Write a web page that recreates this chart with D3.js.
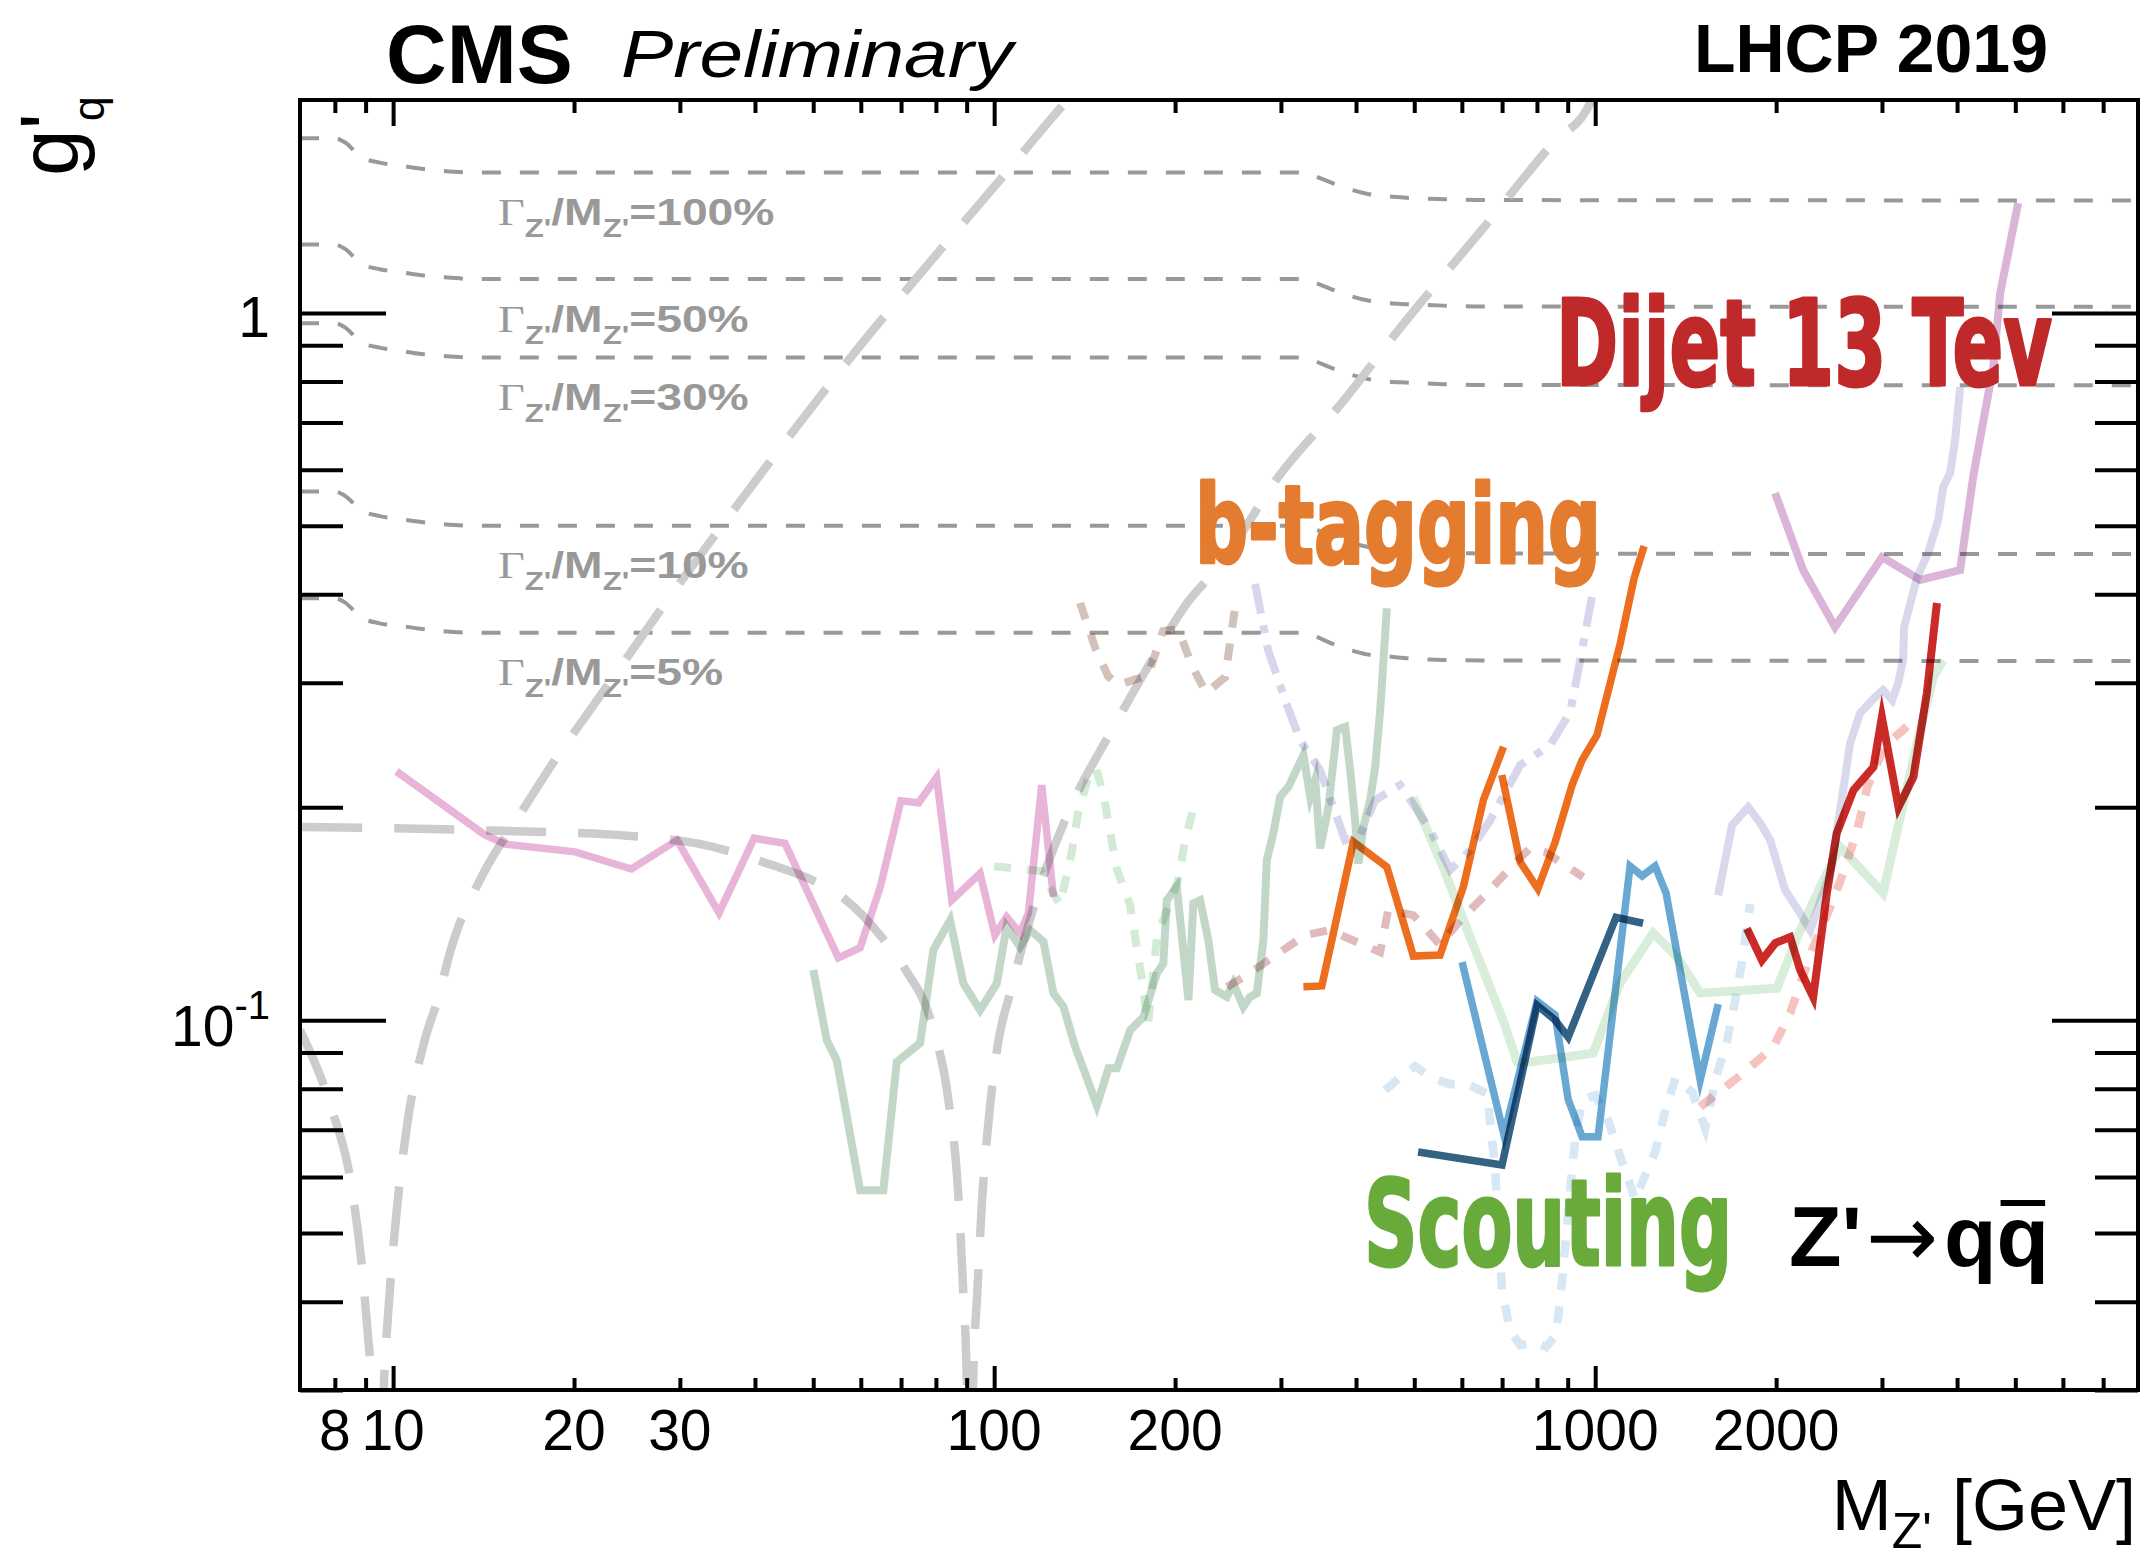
<!DOCTYPE html>
<html>
<head>
<meta charset="utf-8">
<script src="https://cdn.jsdelivr.net/npm/d3@7"></script>
<style>
  html, body { margin: 0; padding: 0; background: #fff; }
  svg { display: block; }
</style>
</head>
<body>
<div id="chart"></div>
<script>
const width = 2149;
const height = 1558;

const plotLeft = 300, plotRight = 2138, plotTop = 100, plotBottom = 1390;

// axis ticks and labels
const xMajorTicks = [10, 100, 1000];
const xMinorTicks = [8, 9, 20, 30, 40, 50, 60, 70, 80, 90, 200, 300, 400, 500, 600, 700, 800, 900, 2000, 3000, 4000, 5000, 6000, 7000];
const xTickLabels = [8, 10, 20, 30, 100, 200, 1000, 2000];
const yMajorTicks = [0.1, 1];
const yMinorTicks = [0.03, 0.04, 0.05, 0.06, 0.07, 0.08, 0.09, 0.2, 0.3, 0.4, 0.5, 0.6, 0.7, 0.8, 0.9];

// constant width lines Gamma/M
const widthMass = [7, 8.0, 8.3, 8.85, 9.5, 10.3, 11.0, 12.0, 13.6, 329, 345, 364, 390, 417, 450, 485, 560, 650, 8000];
const width100 = [1.766, 1.766, 1.744, 1.661, 1.631, 1.615, 1.601, 1.589, 1.580, 1.580, 1.556, 1.528, 1.496, 1.474, 1.462, 1.455, 1.448, 1.444, 1.442];
const width50 = [1.249, 1.249, 1.233, 1.174, 1.153, 1.142, 1.132, 1.124, 1.117, 1.117, 1.100, 1.080, 1.058, 1.042, 1.033, 1.029, 1.024, 1.021, 1.020];
const width30 = [0.967, 0.967, 0.955, 0.909, 0.893, 0.884, 0.876, 0.870, 0.865, 0.865, 0.852, 0.836, 0.819, 0.807, 0.800, 0.797, 0.793, 0.791, 0.790];
const width10 = [0.559, 0.559, 0.552, 0.526, 0.516, 0.511, 0.507, 0.503, 0.500, 0.500, 0.493, 0.484, 0.474, 0.467, 0.463, 0.461, 0.458, 0.457, 0.456];
const width5 = [0.395, 0.395, 0.390, 0.371, 0.364, 0.361, 0.358, 0.355, 0.353, 0.353, 0.348, 0.341, 0.334, 0.329, 0.327, 0.325, 0.323, 0.3226, 0.322];
const widthLabels = ["100%", "50%", "30%", "10%", "5%"];

// indirect constraints (grey long dashes)
const upsilonCurve = [[7.0, 0.0968], [7.86, 0.0759], [8.51, 0.0588], [8.85, 0.0458], [9.09, 0.0355], [9.23, 0.0302], [9.45, 0.018], [9.66, 0.0310], [9.85, 0.0403], [10.1, 0.0520], [10.55, 0.0710], [11.3, 0.0940], [11.9, 0.1078], [12.4, 0.1236], [14.2, 0.1625], [16.0, 0.1912], [18.5, 0.2318], [22.4, 0.292], [27.7, 0.3777], [37.4, 0.5351], [50.8, 0.7531], [58.0, 0.8693], [75.0, 1.131], [106.3, 1.603], [130.3, 1.968], [140, 2.1]];
const zMixingCurve = [[7.06, 0.1875], [14.55, 0.1854], [24.9, 0.1821], [32.5, 0.1774], [42.7, 0.1657], [48.9, 0.1589], [55.9, 0.1493], [65.6, 0.1298], [71.1, 0.1181], [79.1, 0.0975], [83.8, 0.0778], [87.1, 0.0572], [88.8, 0.0417], [90.1, 0.0303], [91.19, 0.015], [92.2, 0.0303], [93.7, 0.0409], [95.5, 0.0557], [98.5, 0.0759], [101.5, 0.0928], [106.3, 0.1092], [121.6, 0.1625], [135.3, 0.2034], [156, 0.2546], [179.7, 0.3147], [209.5, 0.3889], [237.7, 0.4400], [296.9, 0.5861], [382.2, 0.7531], [466.6, 0.9368], [653.6, 1.323], [851, 1.739], [981, 1.980], [1010, 2.1]];

// exclusion limits
const pinkLine = [[10.13, 0.2248], [14.17, 0.1831], [15.37, 0.1774], [20.09, 0.1730], [24.92, 0.1636], [29.68, 0.1797], [34.86, 0.1418], [39.87, 0.1808], [44.88, 0.1778], [55.05, 0.1225], [59.84, 0.1266], [64.68, 0.1545], [69.94, 0.2042], [74.88, 0.2030], [80.22, 0.2203], [85.03, 0.1478], [94.73, 0.1612], [100.3, 0.1319], [104.9, 0.1400], [110.4, 0.1327], [114.0, 0.1416], [120.0, 0.2150], [125.5, 0.1494]];
const sageLine = [[50.03, 0.1177], [52.66, 0.0937], [54.71, 0.0878], [59.84, 0.0575], [65.41, 0.0575], [68.87, 0.0873], [75.3, 0.0928], [79.23, 0.1257], [84.47, 0.1385], [88.88, 0.1127], [94.76, 0.1033], [101.0, 0.1127], [104.9, 0.1355], [110.4, 0.1270], [114.8, 0.1341], [120.8, 0.1291], [125.5, 0.1091], [130.4, 0.1045], [136.4, 0.0917], [141.7, 0.0841], [148.2, 0.0758], [155.0, 0.0855], [160.0, 0.0855], [168.4, 0.0968], [177.2, 0.1011], [186.5, 0.1165], [191.2, 0.1203], [193.8, 0.1478], [201.3, 0.1544], [210.5, 0.1068], [214.5, 0.1463], [220.1, 0.1478], [227.2, 0.1298], [233.1, 0.1103], [243.8, 0.1079], [250.0, 0.1127], [259.8, 0.1045], [266.6, 0.1079], [273.5, 0.1091], [280.5, 0.1298], [284.2, 0.1684], [291.4, 0.1837], [299.1, 0.2069], [308.8, 0.2139], [327.1, 0.2370], [335.6, 0.2069], [342.1, 0.2185], [348.7, 0.1749], [359.9, 0.2003], [371.7, 0.2571], [383.7, 0.2599], [391.1, 0.2257], [398.6, 0.1918], [403.7, 0.1665], [411.5, 0.1876], [422.3, 0.2048], [430.5, 0.2282], [438.8, 0.2745], [450.2, 0.3822]];
const mintDots = [[99.96, 0.1651], [119.7, 0.1625], [128.7, 0.1455], [134.8, 0.1739], [137.9, 0.1963], [143.3, 0.2199], [147.7, 0.2273], [151.8, 0.2095], [155.9, 0.1845], [160.2, 0.1630], [168.3, 0.1455], [176.2, 0.1139], [180.3, 0.0985], [186.6, 0.1311], [202.3, 0.1578], [207.8, 0.1797], [215.9, 0.2034]];
const tanDots = [[139.0, 0.3889], [147.7, 0.3337], [154.7, 0.3066], [160.8, 0.2977], [180.3, 0.3074], [191.0, 0.3550], [202.4, 0.3573], [213.5, 0.3167], [225.3, 0.2901], [242.3, 0.3055], [252.7, 0.3926]];
const lilacDashDot = [[271.8, 0.4136], [285.6, 0.3337], [304.8, 0.2836], [322.8, 0.2489], [348.6, 0.2257], [383.6, 0.1797], [406.3, 0.1827], [430.5, 0.2048], [473.7, 0.2150], [531.6, 0.1857], [573.8, 0.1630], [619.4, 0.1739], [669.0, 0.1918], [750.4, 0.2295], [841.9, 0.2449], [908.7, 0.2727], [944.1, 0.3229], [992.4, 0.4057]];
const btagLow = [[327.0, 0.1115], [350.9, 0.1118], [396.0, 0.1788], [450.2, 0.1647], [498.3, 0.1232], [551.9, 0.1236], [603.5, 0.1544], [651.6, 0.2048], [703.7, 0.2435]];
const btagHigh = [[699.3, 0.2221], [750.2, 0.1674], [802.7, 0.1534], [857.8, 0.1786], [915.4, 0.2150], [951.0, 0.2332], [1007, 0.2530], [1100, 0.3402], [1161, 0.4218], [1206, 0.4681]];
const roseDots = [[244.1, 0.1114], [266.6, 0.1166], [299.0, 0.1248], [329.1, 0.1319], [362.2, 0.1341], [383.6, 0.1311], [438.7, 0.1248], [452.4, 0.1431], [497.7, 0.1408], [525.2, 0.1341], [552.0, 0.1277], [600.5, 0.1394], [661.0, 0.1512], [721.9, 0.1641], [779.3, 0.1751], [825.1, 0.1729], [954.8, 0.1593]];
const paleGreenLine = [[497.7, 0.2067], [558.3, 0.1646], [619.3, 0.1311], [702.6, 0.1000], [741.5, 0.0873], [779.3, 0.0873], [992.0, 0.0898], [1100, 0.1128], [1248.6, 0.1328], [1368.6, 0.1228], [1494.6, 0.1092], [2007, 0.1110], [2168, 0.1311], [2367, 0.1542], [2556, 0.1757], [3013, 0.1512], [3217, 0.1937], [3433, 0.2465], [3650, 0.3055], [3792, 0.3229]];
const blueLine = [[600.5, 0.1208], [705.2, 0.0688], [800.5, 0.1064], [857.8, 0.1017], [901.6, 0.0773], [951.0, 0.0684], [1011, 0.0684], [1143, 0.1651], [1197, 0.1599], [1258, 0.1651], [1312, 0.1512], [1495, 0.0823], [1602, 0.1054]];
const navyLine = [[507.4, 0.0651], [699.8, 0.0624], [800.5, 0.1050], [857.8, 0.1000], [901.6, 0.0946], [1083, 0.1398], [1201, 0.1371]];
const skyDots = [[447.2, 0.0796], [473.6, 0.0831], [501.5, 0.0861], [535.4, 0.0828], [573.6, 0.0812], [612.2, 0.0812], [661.0, 0.0788], [681.7, 0.0614], [699.8, 0.0415], [721.9, 0.0364], [750.2, 0.0347], [794.3, 0.0351], [828.5, 0.0345], [861.0, 0.0359], [881.0, 0.0429], [908.5, 0.0575], [926.1, 0.0677], [951.2, 0.0771], [1000, 0.0783], [1051, 0.0722], [1109, 0.0630], [1166, 0.0557], [1211, 0.0604], [1258, 0.0651], [1302, 0.0734], [1359, 0.0828], [1450, 0.0791], [1524, 0.0704], [1584, 0.0823], [1658, 0.0937], [1710, 0.1068], [1757, 0.1216], [1811, 0.1459]];
const lilacLine = [[1601.6, 0.1502], [1689.6, 0.1887], [1797, 0.2001], [1881, 0.1900], [1955, 0.1797], [2070, 0.1527], [2176, 0.1431], [2279, 0.1341], [2460, 0.1614], [2556, 0.1982], [2656, 0.2465], [2759, 0.2718], [2922, 0.2862], [3013, 0.2929], [3119, 0.2836], [3192, 0.2997], [3253, 0.3229], [3266, 0.3596], [3433, 0.4232], [3580, 0.4576], [3721, 0.5094], [3793, 0.5673], [3895, 0.5938], [3970, 0.6611], [4047, 0.7855]];
const mauveLine = [[1992, 0.5563], [2218, 0.4329], [2506, 0.3596], [3002, 0.4516], [3472, 0.4192], [4047, 0.4329], [4254, 0.5861], [4594, 0.8386], [4719, 1.067], [5055, 1.430]];
const dijetLine = [[1788, 0.1348], [1894, 0.1216], [1993, 0.1285], [2110, 0.1311], [2193, 0.1177], [2305, 0.1078], [2429, 0.1512], [2523, 0.1839], [2690, 0.2115], [2904, 0.2280], [2999, 0.2683], [3196, 0.2001], [3384, 0.2207], [3563, 0.2901], [3703, 0.3889]];
const salmonDots = [[1495, 0.0754], [1763, 0.0842], [1978, 0.0916], [2110, 0.1023], [2296, 0.1257], [2460, 0.1445], [2586, 0.1614], [2729, 0.1857], [2836, 0.2136], [3037, 0.2449], [3253, 0.2572], [3433, 0.2683]];

const dotted = "17 16";
const dashDot = "30 12 8 12";

const limitStyles = [
    {data: sageLine, color: "#c3d7c9", width: 8, dash: null},
    {data: pinkLine, color: "#e8b4d8", width: 7.5, dash: null},
    {data: mintDots, color: "#d2ebd4", width: 8, dash: dotted},
    {data: tanDots, color: "#d2c2ba", width: 8, dash: dotted},
    {data: lilacDashDot, color: "#d8d6ec", width: 8, dash: dashDot},
    {data: roseDots, color: "#dfbcbb", width: 8, dash: dotted},
    {data: paleGreenLine, color: "#d9eeda", width: 9, dash: null},
    {data: skyDots, color: "#d7e8f4", width: 8.5, dash: dotted},
    {data: lilacLine, color: "#dad8ec", width: 8, dash: null},
    {data: mauveLine, color: "#dab5d8", width: 8, dash: null},
    {data: salmonDots, color: "#f6c3c0", width: 8.5, dash: dotted},
    {data: btagLow, color: "#ec6e1e", width: 7.5, dash: null},
    {data: btagHigh, color: "#ec6e1e", width: 7.5, dash: null},
    {data: blueLine, color: "#69a8d3", width: 7.5, dash: null},
    {data: navyLine, color: "#336283", width: 7.5, dash: null},
    {data: dijetLine, color: "#cb2b26", width: 8, dash: null}
];

// scales
const xScale = d3.scaleLog().domain([7, 8000]).range([plotLeft, plotRight]);
const yScale = d3.scaleLog().domain([0.03, 2]).range([plotBottom, plotTop]);

const svg = d3.select("#chart").append("svg")
    .attr("width", width).attr("height", height)
    .style("font-family", "'Liberation Sans', Arial, Helvetica, sans-serif");

svg.append("defs").append("clipPath").attr("id", "plot-clip")
    .append("rect")
    .attr("x", plotLeft).attr("y", plotTop)
    .attr("width", plotRight - plotLeft).attr("height", plotBottom - plotTop);

const plot = svg.append("g").attr("clip-path", "url(#plot-clip)");

const straight = d3.line().x(d => xScale(d[0])).y(d => yScale(d[1]));
const smooth = d3.line().x(d => xScale(d[0])).y(d => yScale(d[1])).curve(d3.curveMonotoneX);

// width lines
const widthSeries = [width100, width50, width30, width10, width5]
    .map(vals => widthMass.map((m, i) => [m, vals[i]]));

plot.selectAll("path.width")
    .data(widthSeries)
    .join("path")
    .attr("class", "width")
    .attr("d", smooth)
    .attr("fill", "none")
    .attr("stroke", "#999")
    .attr("stroke-width", 4)
    .attr("stroke-dasharray", "19 19");

// grey long-dashed curves
plot.selectAll("path.indirect")
    .data([upsilonCurve, zMixingCurve])
    .join("path")
    .attr("class", "indirect")
    .attr("d", smooth)
    .attr("fill", "none")
    .attr("stroke", "#cccccc")
    .attr("stroke-width", 8.5)
    .attr("stroke-dasharray", "60 32");

// limits
plot.selectAll("path.limit")
    .data(limitStyles)
    .join("path")
    .attr("class", "limit")
    .attr("d", d => straight(d.data))
    .attr("fill", "none")
    .attr("stroke", d => d.color)
    .attr("stroke-width", d => d.width)
    .attr("stroke-dasharray", d => d.dash)
    .attr("stroke-linejoin", "miter")
    .attr("stroke-miterlimit", 6)
    .style("mix-blend-mode", "multiply");

// width labels (Helvetica-like, stretched a little wider as in ROOT)
const widthLabel = svg.selectAll("g.wlabel")
    .data(widthLabels)
    .join("g")
    .attr("class", "wlabel")
    .attr("transform", (d, i) => `translate(498,${yScale(widthSeries[i][10][1]) + 48}) scale(1.25,1)`)
    .append("text")
    .attr("fill", "#999")
    .attr("font-size", 37)
    .attr("font-weight", "bold");
widthLabel.append("tspan").attr("font-family", "'Liberation Serif', serif").attr("font-weight", "normal").text("\u0393");
widthLabel.append("tspan").attr("font-size", 25).attr("dy", 12).text("Z'");
widthLabel.append("tspan").attr("dy", -12).text("/M");
widthLabel.append("tspan").attr("font-size", 25).attr("dy", 12).text("Z'");
widthLabel.append("tspan").attr("dy", -12).text(d => "=" + d);

// axes: frame
svg.append("rect")
    .attr("x", plotLeft).attr("y", plotTop)
    .attr("width", plotRight - plotLeft).attr("height", plotBottom - plotTop)
    .attr("fill", "none").attr("stroke", "#000").attr("stroke-width", 4);

function drawAxis(axis, transform) {
    const g = svg.append("g").attr("transform", transform).call(axis);
    g.select(".domain").remove();
    g.selectAll(".tick line").attr("stroke", "#000").attr("stroke-width", 4);
    g.selectAll(".tick text").remove();
}

drawAxis(d3.axisTop(xScale).tickValues(xMajorTicks).tickSize(24).tickSizeOuter(0), `translate(0,${plotBottom})`);
drawAxis(d3.axisTop(xScale).tickValues(xMinorTicks).tickSize(12).tickSizeOuter(0), `translate(0,${plotBottom})`);
drawAxis(d3.axisBottom(xScale).tickValues(xMajorTicks).tickSize(26).tickSizeOuter(0), `translate(0,${plotTop})`);
drawAxis(d3.axisBottom(xScale).tickValues(xMinorTicks).tickSize(13).tickSizeOuter(0), `translate(0,${plotTop})`);
drawAxis(d3.axisRight(yScale).tickValues(yMajorTicks).tickSize(86).tickSizeOuter(0), `translate(${plotLeft},0)`);
drawAxis(d3.axisRight(yScale).tickValues(yMinorTicks).tickSize(43).tickSizeOuter(0), `translate(${plotLeft},0)`);
drawAxis(d3.axisLeft(yScale).tickValues(yMajorTicks).tickSize(86).tickSizeOuter(0), `translate(${plotRight},0)`);
drawAxis(d3.axisLeft(yScale).tickValues(yMinorTicks).tickSize(43).tickSizeOuter(0), `translate(${plotRight},0)`);

// tick labels
svg.selectAll("text.xlabel")
    .data(xTickLabels)
    .join("text")
    .attr("class", "xlabel")
    .attr("x", d => xScale(d))
    .attr("y", 1450)
    .attr("text-anchor", "middle")
    .attr("font-size", 57)
    .text(d => d);

svg.append("text")
    .attr("x", 270).attr("y", yScale(1) + 24)
    .attr("text-anchor", "end").attr("font-size", 57)
    .text("1");

const tenth = svg.append("text")
    .attr("x", 270).attr("y", yScale(0.1) + 26)
    .attr("text-anchor", "end").attr("font-size", 57);
tenth.append("tspan").text("10");
tenth.append("tspan").attr("font-size", 40).attr("dy", -27).text("-1");

// axis titles
const xTitle = svg.append("text")
    .attr("x", 2136).attr("y", 1530)
    .attr("text-anchor", "end").attr("font-size", 72);
xTitle.append("tspan").text("M");
xTitle.append("tspan").attr("font-size", 50).attr("dy", 18).text("Z'");
xTitle.append("tspan").attr("dy", -18).text(" [GeV]");

const yTitle = svg.append("g").attr("transform", "translate(78,100) rotate(-90)")
    .append("text")
    .attr("x", -76).attr("y", 0)
    .attr("font-size", 84);
yTitle.append("tspan").text("g");
yTitle.append("tspan").text("'");
yTitle.append("tspan").attr("font-size", 45).attr("dx", -8).attr("dy", 26).text("q");

// header
svg.append("text")
    .attr("x", 386).attr("y", 83)
    .attr("font-size", 84).attr("font-weight", "bold")
    .text("CMS");

svg.append("text")
    .attr("x", 621).attr("y", 77)
    .attr("font-size", 66).attr("font-style", "italic")
    .attr("textLength", 392).attr("lengthAdjust", "spacingAndGlyphs")
    .text("Preliminary");

svg.append("text")
    .attr("x", 2048).attr("y", 72)
    .attr("text-anchor", "end")
    .attr("font-size", 68).attr("font-weight", "bold")
    .text("LHCP 2019");

// hand-written style labels
const handFont = "'Liberation Sans Narrow', 'DejaVu Sans Condensed', sans-serif";
const handLabels = [
    {text: "Dijet 13 Tev", x: 1556, y: 385, size: 119, len: 496, color: "#c0292a"},
    {text: "b-tagging", x: 1195, y: 563, size: 108, len: 406, color: "#e47c30"},
    {text: "Scouting", x: 1364, y: 1265, size: 120, len: 368, color: "#68ab3b"}
];

svg.selectAll("text.hand")
    .data(handLabels)
    .join("text")
    .attr("class", "hand")
    .attr("x", d => d.x).attr("y", d => d.y)
    .attr("font-family", handFont)
    .attr("font-weight", "bold")
    .attr("font-size", d => d.size)
    .attr("textLength", d => d.len)
    .attr("lengthAdjust", "spacingAndGlyphs")
    .attr("fill", d => d.color)
    .attr("stroke", d => d.color)
    .attr("stroke-width", 3)
    .attr("stroke-linejoin", "round")
    .text(d => d.text);

// Z' -> q qbar, one text element
const processLabel = svg.append("text")
    .attr("x", 1789).attr("y", 1266)
    .attr("font-size", 86).attr("font-weight", "bold");
processLabel.append("tspan").text("Z'");
processLabel.append("tspan")
    .attr("dx", 4)
    .attr("font-family", "'DejaVu Sans', sans-serif")
    .attr("font-weight", "normal")
    .text("\u2192");
processLabel.append("tspan").attr("dx", 6).text("qq");

const qbar = processLabel.node().getExtentOfChar(4);
svg.append("rect")
    .attr("x", qbar.x + 4).attr("y", 1200)
    .attr("width", qbar.width - 8).attr("height", 6)
    .attr("fill", "#000");
</script>
</body>
</html>
